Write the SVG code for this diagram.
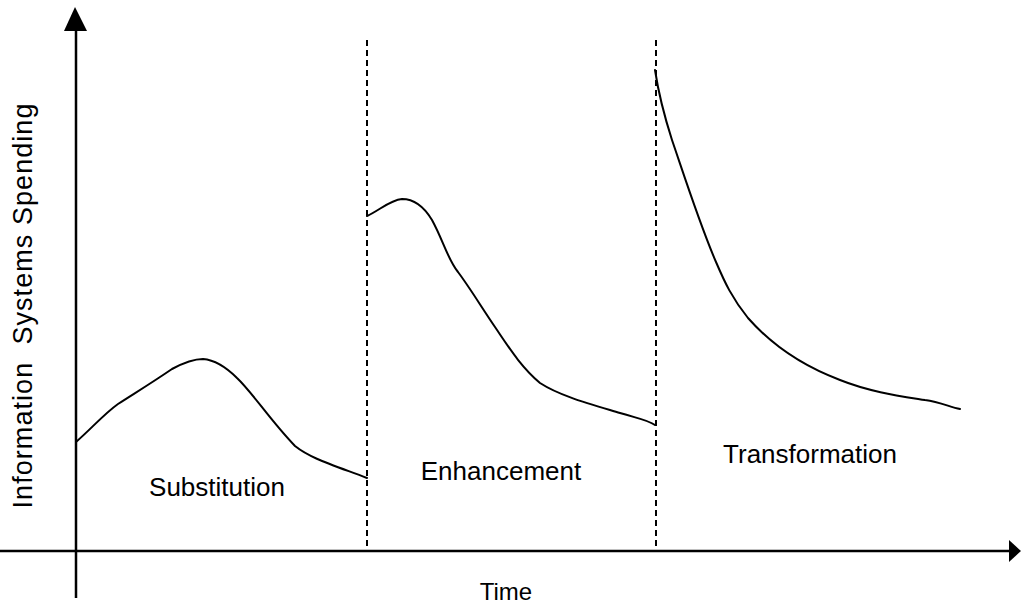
<svg xmlns="http://www.w3.org/2000/svg" width="1021" height="605" viewBox="0 0 1021 605">
  <style>
    .axis { stroke: #000; stroke-width: 2.5; fill: none; }
    .phase { stroke: #000; stroke-width: 2; stroke-dasharray: 6 4; fill: none; }
    .curve { stroke: #000; stroke-width: 2; fill: none; stroke-linejoin: round; stroke-linecap: round; }
    .label { font-family: "Liberation Sans", Arial, sans-serif; font-size: 26px; fill: #000; text-anchor: middle; }
  </style>
  <rect width="1021" height="605" fill="#fff"/>

  <g id="axes">
    <line class="axis" x1="76" y1="28" x2="76" y2="598"/>
    <polygon points="75,7 64,31 87,31" fill="#000"/>
    <line class="axis" x1="0" y1="551" x2="1010" y2="551"/>
    <polygon points="1021,551 1009,540 1009,562" fill="#000"/>
  </g>

  <g id="phase-boundaries">
    <line class="phase" x1="367" y1="40" x2="367" y2="549"/>
    <line class="phase" x1="656" y1="40" x2="656" y2="549"/>
  </g>

  <g id="spending-curves">
    <path id="substitution-curve" class="curve" d="M76,442 C92,428 104,414 118,404 C135,393 150,384 172,369 C185,362 194,359 203,359 C215,360 226,367 237,378 C252,392 270,420 295,446 C310,458 330,464 367,478"/>
    <path id="enhancement-curve" class="curve" d="M367,216 C380,210 390,200 402,199 C412,199 423,205 432,220 C443,240 448,260 458,272 C470,288 482,308 495,327 C508,346 520,366 540,383 C560,396 590,404 620,413 C640,419 648,420 655,425"/>
    <path id="transformation-curve" class="curve" d="M655,70 C658,90 664,115 672,140 C684,175 700,225 716,262 C725,283 732,298 748,318 C770,343 800,365 840,380 C870,392 900,396 925,400 C940,402 950,407 960,409"/>
  </g>

  <g id="phase-labels">
    <text class="label" x="217" y="496">Substitution</text>
    <text class="label" x="501" y="480">Enhancement</text>
    <text class="label" x="810" y="463">Transformation</text>
  </g>

  <g id="axis-labels">
    <text class="label" x="506" y="600" style="font-size:24px">Time</text>
    <text class="label" transform="translate(32,306) rotate(-90)" style="font-size:27px" xml:space="preserve" textLength="405" lengthAdjust="spacing">Information  Systems Spending</text>
  </g>
</svg>
